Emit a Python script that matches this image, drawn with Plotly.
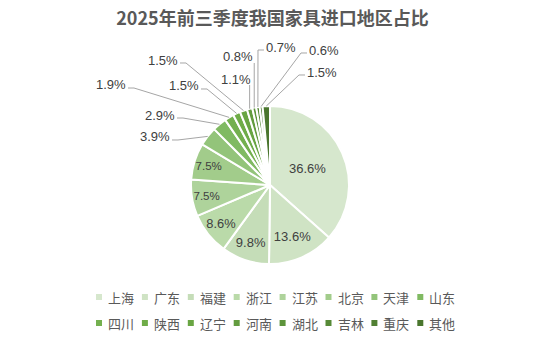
import math
import plotly.graph_objects as go

regions = ["上海", "广东", "福建", "浙江", "江苏", "北京", "天津", "山东",
           "四川", "陕西", "辽宁", "河南", "湖北", "吉林", "重庆", "其他"]
shares = [36.6, 13.6, 9.8, 8.6, 7.5, 7.5, 3.9, 2.9,
          1.9, 1.5, 1.5, 1.1, 0.8, 0.7, 0.6, 1.5]
colors = ["#d6e7cd", "#cfe3c4", "#c5ddb8", "#badaa9", "#aed39b", "#a2cc8b",
          "#93c47a", "#80ba62", "#74b04f", "#6fac48", "#69a543", "#639c3f",
          "#5d943b", "#578a37", "#518033", "#4a762e"]
title_text = "2025年前三季度我国家具进口地区占比"

# pixel positions (centre) of outside labels for the small slices, in slice order
outside_label_pos = {
    "天津": (155, 137), "山东": (160, 115), "四川": (111, 85), "陕西": (184, 86),
    "辽宁": (163, 60), "河南": (236, 79), "湖北": (238, 57), "吉林": (281, 47),
    "重庆": (324, 50), "其他": (322, 72),
}

W, H = 545, 337
cx, cy, R = 270, 185, 79

def px(x):
    return x / W

def py(y):
    return 1 - y / H

textpos = ["none" if name in outside_label_pos else "inside" for name in regions]

fig = go.Figure()
fig.add_trace(go.Pie(
    labels=regions, values=shares, sort=False, direction="clockwise", rotation=0,
    marker=dict(colors=colors, line=dict(color="white", width=2)),
    texttemplate="%{value:.1f}%", textposition=textpos,
    insidetextorientation="horizontal",
    textfont=dict(family="Liberation Sans, Arial, sans-serif", size=13, color="#404040"),
    domain=dict(x=[px(cx - R), px(cx + R)], y=[py(cy + R), py(cy - R)]),
    automargin=False, showlegend=False, hoverinfo="label+percent",
))

shapes, annots = [], []

# outside labels with leader lines, anchored at each slice's mid angle
total = sum(shares)
cum = 0.0
for name, v in zip(regions, shares):
    mid = (cum + v / 2) / total * 2 * math.pi
    cum += v
    if name not in outside_label_pos:
        continue
    ex = cx + R * math.sin(mid)
    ey = cy - R * math.cos(mid)
    lx, ly = outside_label_pos[name]
    annots.append(dict(xref="paper", yref="paper", x=px(lx), y=py(ly),
                       xanchor="center", yanchor="middle", showarrow=False,
                       text=f"{v:.1f}%",
                       font=dict(family="Liberation Sans, Arial, sans-serif",
                                 size=13, color="#404040")))
    half = 16
    if abs(ex - (lx + half)) < 6 or abs(ex - (lx - half)) < 6:
        pts = [(ex, ly + 6), (ex, ey)]
    elif ex > lx:
        sx = lx + half + 1
        pts = [(sx, ly + 3), (sx + 6, ly + 3), (ex, ey)]
    else:
        sx = lx - half - 1
        pts = [(sx, ly + 3), (sx - 6, ly + 3), (ex, ey)]
    path = "M " + " L ".join(f"{px(a):.5f},{py(b):.5f}" for a, b in pts)
    shapes.append(dict(type="path", xref="paper", yref="paper", path=path,
                       line=dict(color="#a6a6a6", width=1)))

# custom legend (two rows of eight)
per_row, x_start, step = 8, 96, 45.9
row_y = [297, 323]
for i, name in enumerate(regions):
    r, c = divmod(i, per_row)
    sx = x_start + c * step
    sy = row_y[r]
    shapes.append(dict(type="rect", xref="paper", yref="paper",
                       x0=px(sx), x1=px(sx + 6), y0=py(sy + 3), y1=py(sy - 3),
                       fillcolor=colors[i], line=dict(width=0)))
    annots.append(dict(xref="paper", yref="paper", x=px(sx + 10), y=py(sy),
                       xanchor="left", yanchor="middle", showarrow=False, text=name,
                       font=dict(family="Noto Sans CJK SC", size=13, color="#595959")))

fig.update_layout(
    width=W, height=H, margin=dict(l=0, r=0, t=0, b=0),
    paper_bgcolor="white", plot_bgcolor="white",
    title=dict(text="<b>" + title_text + "</b>", x=0.5, xanchor="center",
               y=py(19), yanchor="middle",
               font=dict(family="Noto Sans CJK SC", size=18, color="#595959")),
    shapes=shapes, annotations=annots,
)
fig.write_html("out.html")
